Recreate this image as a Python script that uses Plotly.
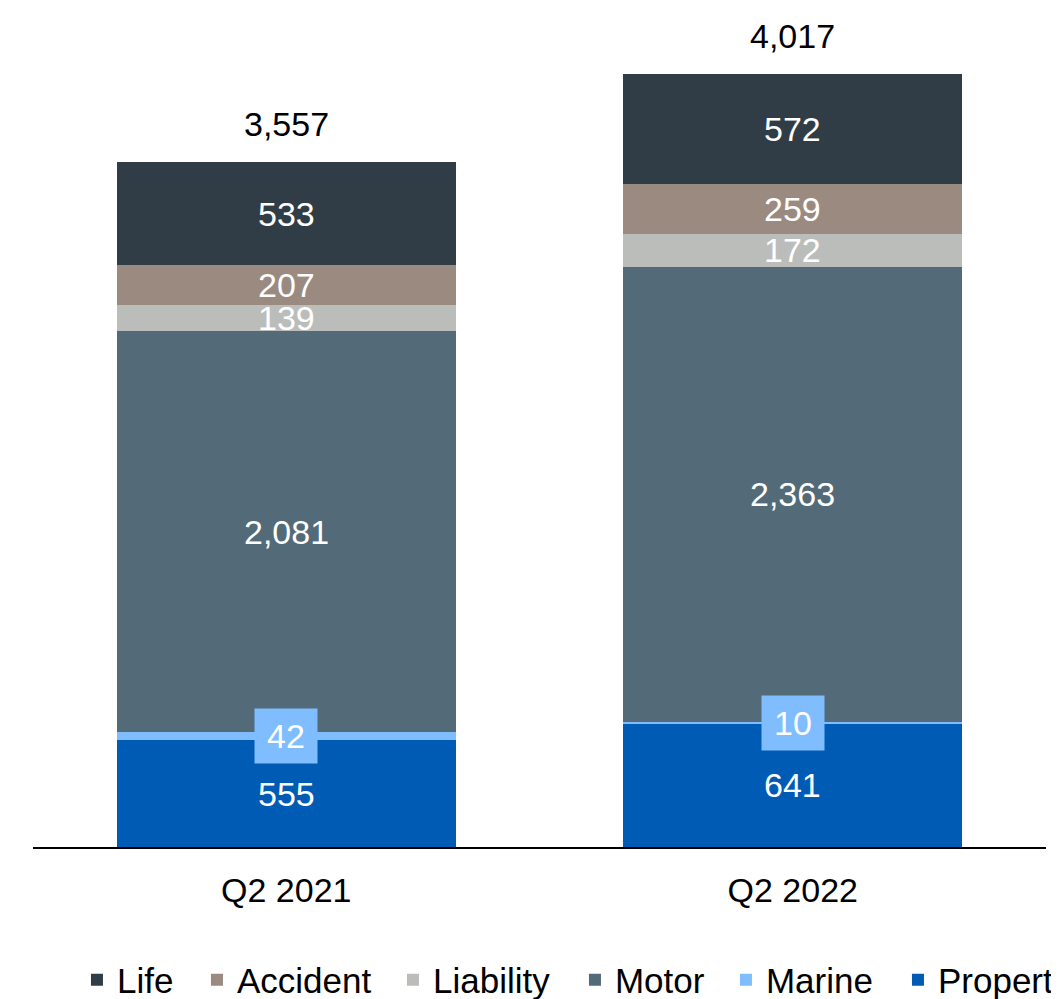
import plotly.graph_objects as go

categories = ["Q2 2021", "Q2 2022"]
series_names = ["Property", "Marine", "Motor", "Liability", "Accident", "Life"]
property_vals = [555, 641]
marine_vals = [42, 10]
motor_vals = [2081, 2363]
liability_vals = [139, 172]
accident_vals = [207, 259]
life_vals = [533, 572]
totals = [3557, 4017]

colors = {
    "Property": "#005BB5",
    "Marine": "#7FBDFF",
    "Motor": "#536A78",
    "Liability": "#BBBDBA",
    "Accident": "#9A8A80",
    "Life": "#303D47",
}
values = {
    "Property": property_vals,
    "Marine": marine_vals,
    "Motor": motor_vals,
    "Liability": liability_vals,
    "Accident": accident_vals,
    "Life": life_vals,
}
# legend entry widths (px) to reproduce the reference spacing
legend_widths = {
    "Life": 75, "Accident": 151, "Liability": 137,
    "Motor": 106, "Marine": 127, "Property": 108,
}

FONT = "Liberation Sans, Arial, sans-serif"
FS = 34
fig = go.Figure()
for name in series_names:
    fig.add_trace(go.Bar(
        x=categories, y=values[name], name=name,
        marker=dict(color=colors[name], line=dict(width=0)),
        legendwidth=legend_widths[name],
        hoverinfo="skip",
    ))

annotations = []
cum = [0, 0]
for name in series_names:
    for i, c in enumerate(categories):
        v = values[name][i]
        mid = cum[i] + v / 2
        if name == "Marine":
            annotations.append(dict(
                x=c, y=mid, xref="x", yref="y", text=f"{v:,}", showarrow=False,
                font=dict(family=FONT, size=FS, color="white"),
                bgcolor=colors["Marine"], width=60, height=52,
            ))
        else:
            annotations.append(dict(
                x=c, y=mid, xref="x", yref="y", text=f"{v:,}", showarrow=False,
                font=dict(family=FONT, size=FS, color="white"),
            ))
        cum[i] += v

for i, c in enumerate(categories):
    annotations.append(dict(
        x=c, y=totals[i], xref="x", yref="y", text=f"{totals[i]:,}", showarrow=False,
        yanchor="bottom", yshift=17,
        font=dict(family=FONT, size=FS, color="black"),
    ))

fig.update_layout(
    barmode="stack",
    bargap=0.33,
    width=1054, height=991,
    margin=dict(l=25, r=16, t=12, b=152, autoexpand=False),
    paper_bgcolor="white", plot_bgcolor="white",
    font=dict(family=FONT, size=FS, color="black"),
    showlegend=True,
    legend=dict(
        orientation="h", traceorder="reversed",
        x=0.0434, xanchor="left", y=-0.1608, yanchor="middle",
        font=dict(family=FONT, size=35, color="black"),
        itemwidth=30, tracegroupgap=0,
    ),
    annotations=annotations,
    xaxis=dict(
        showline=True, linecolor="black", linewidth=2,
        ticks="", showgrid=False, ticklabelstandoff=12,
        tickfont=dict(family=FONT, size=FS, color="black"),
        fixedrange=True,
    ),
    yaxis=dict(
        range=[0, 4296], visible=False, showgrid=False, fixedrange=True,
    ),
)

fig.write_html("out.html")
